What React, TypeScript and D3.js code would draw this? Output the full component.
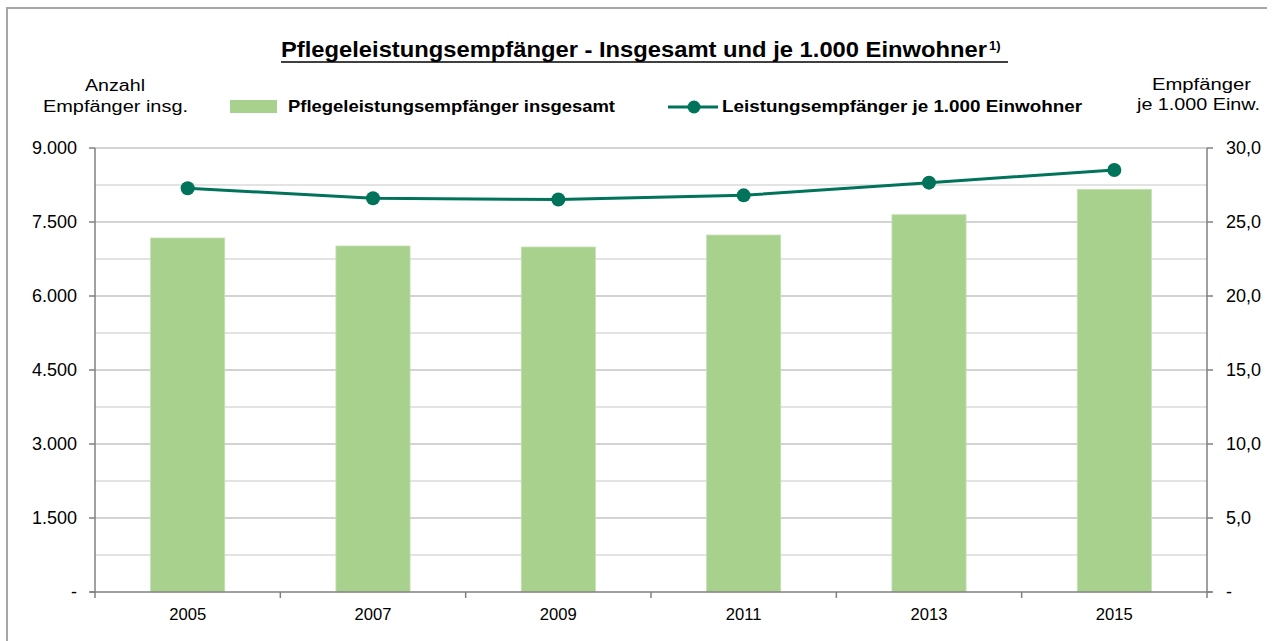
import React from "react";
import * as d3 from "d3";

const years = ["2005", "2007", "2009", "2011", "2013", "2015"];
const totalRecipients = [7176, 7014, 6993, 7236, 7648, 8163];
const perThousand = [27.28, 26.6, 26.52, 26.8, 27.66, 28.51];
const leftTicks = [0, 1500, 3000, 4500, 6000, 7500, 9000];
const rightTicks = [0, 5, 10, 15, 20, 25, 30];
const minorTicks = [750, 2250, 3750, 5250, 6750, 8250];

const W = 1276;
const H = 641;
const M = { left: 95, right: 1207, top: 148, bottom: 592 };
const FONT = "'Liberation Sans', Arial, Helvetica, sans-serif";
const BAR = "#a9d18e";
const LINE = "#00735a";

export default function App() {
  const x = d3.scaleBand().domain(years).range([M.left, M.right]).paddingInner(0).paddingOuter(0);
  const yL = d3.scaleLinear().domain([0, 9000]).range([M.bottom, M.top]);
  const yR = d3.scaleLinear().domain([0, 30]).range([M.bottom, M.top]);
  const bw = x.bandwidth() * 0.4;
  const fmtL = (v: number) => (v === 0 ? "-" : d3.format(",")(v).replace(/,/g, "."));
  const fmtR = (v: number) => (v === 0 ? "-" : v.toFixed(1).replace(".", ","));
  const line = d3
    .line<number>()
    .x((_, i) => (x(years[i]) as number) + x.bandwidth() / 2)
    .y((d) => yR(d));
  const boundaries = d3.range(years.length + 1).map((i) => M.left + i * x.bandwidth());

  return (
    <svg width={W} height={H} style={{ position: "absolute", left: 0, top: 0, fontFamily: FONT }}>
      <rect x={0} y={0} width={W} height={H} fill="#fff" />
      <path d="M7,660 L7,8 L1267,8" fill="none" stroke="#a6a6a6" strokeWidth={2} />
      {/* title */}
      <text x={281} y={57} fontSize={22} fontWeight="bold" fill="#000" textLength={706} lengthAdjust="spacingAndGlyphs">
        Pflegeleistungsempfänger - Insgesamt und je 1.000 Einwohner
      </text>
      <line x1={281} x2={1008} y1={62} y2={62} stroke="#000" strokeWidth={1.5} />
      <text x={989} y={50} fontSize={13} fontWeight="bold" fill="#000">1)</text>
      {/* axis titles */}
      <text x={85} y={91} fontSize={16} fill="#000" textLength={60} lengthAdjust="spacingAndGlyphs">Anzahl</text>
      <text x={43} y={112} fontSize={16} fill="#000" textLength={145} lengthAdjust="spacingAndGlyphs">Empfänger insg.</text>
      <text x={1152} y={90} fontSize={16} fill="#000" textLength={99} lengthAdjust="spacingAndGlyphs">Empfänger</text>
      <text x={1137} y={110} fontSize={16} fill="#000" textLength={123} lengthAdjust="spacingAndGlyphs">je 1.000 Einw.</text>
      {/* legend */}
      <rect x={230} y={100} width={47} height={13} fill={BAR} />
      <text x={288} y={112} fontSize={16.5} fontWeight="bold" fill="#000" textLength={327} lengthAdjust="spacingAndGlyphs">
        Pflegeleistungsempfänger insgesamt
      </text>
      <line x1={668} x2={718} y1={107} y2={107} stroke={LINE} strokeWidth={3} />
      <circle cx={694} cy={107} r={6.5} fill={LINE} />
      <text x={722} y={112} fontSize={16.5} fontWeight="bold" fill="#000" textLength={360} lengthAdjust="spacingAndGlyphs">
        Leistungsempfänger je 1.000 Einwohner
      </text>
      {/* gridlines */}
      {minorTicks.map((t) => (
        <line key={"m" + t} x1={M.left} x2={M.right} y1={yL(t)} y2={yL(t)} stroke="#dadada" strokeWidth={1.5} />
      ))}
      {leftTicks.filter((t) => t > 0).map((t) => (
        <line key={"g" + t} x1={M.left} x2={M.right} y1={yL(t)} y2={yL(t)} stroke="#c4c4c4" strokeWidth={1.5} />
      ))}
      {/* bars */}
      {totalRecipients.map((v, i) => (
        <rect
          key={years[i]}
          x={(x(years[i]) as number) + (x.bandwidth() - bw) / 2}
          y={yL(v)}
          width={bw}
          height={yL(0) - yL(v)}
          fill={BAR}
          stroke="#c5e0b4"
          strokeWidth={0.8}
        />
      ))}
      {/* axes */}
      <line x1={M.left} x2={M.left} y1={M.top} y2={M.bottom} stroke="#808080" strokeWidth={1.5} />
      <line x1={M.right} x2={M.right} y1={M.top} y2={M.bottom} stroke="#808080" strokeWidth={1.5} />
      <line x1={M.left - 5} x2={M.right + 5} y1={M.bottom} y2={M.bottom} stroke="#808080" strokeWidth={1.5} />
      {leftTicks.map((t) => (
        <g key={"l" + t}>
          <line x1={M.left - 6} x2={M.left} y1={yL(t)} y2={yL(t)} stroke="#808080" strokeWidth={1.5} />
          <text x={77} y={yL(t) + 6} textAnchor="end" fontSize={18} fill="#000">{fmtL(t)}</text>
        </g>
      ))}
      {rightTicks.map((t) => (
        <g key={"r" + t}>
          <line x1={M.right} x2={M.right + 6} y1={yR(t)} y2={yR(t)} stroke="#808080" strokeWidth={1.5} />
          <text x={1226} y={yR(t) + 6} textAnchor="start" fontSize={18} fill="#000">{fmtR(t)}</text>
        </g>
      ))}
      {boundaries.map((bx, i) => (
        <line key={"b" + i} x1={bx} x2={bx} y1={M.bottom} y2={M.bottom + 6} stroke="#808080" strokeWidth={1.5} />
      ))}
      {years.map((yv) => (
        <text key={"x" + yv} x={(x(yv) as number) + x.bandwidth() / 2} y={620} textAnchor="middle" fontSize={16.6} fill="#000">
          {yv}
        </text>
      ))}
      {/* line */}
      <path d={line(perThousand) || ""} fill="none" stroke={LINE} strokeWidth={3} />
      {perThousand.map((v, i) => (
        <circle key={"p" + i} cx={(x(years[i]) as number) + x.bandwidth() / 2} cy={yR(v)} r={7} fill={LINE} />
      ))}
    </svg>
  );
}
